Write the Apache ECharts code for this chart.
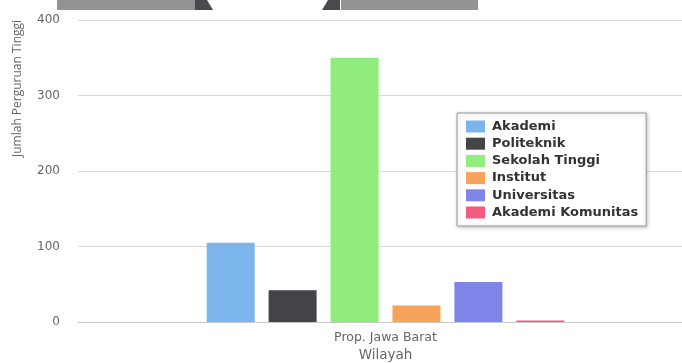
<!DOCTYPE html>
<html>
<head>
<meta charset="utf-8">
<style>
  html, body { margin: 0; padding: 0; background: #fff; }
  #chart { width: 682px; height: 363px; }
</style>
<script src="https://cdn.jsdelivr.net/npm/echarts@6/dist/echarts.min.js"></script>
</head>
<body>
<div id="chart"></div>
<script>
// Jumlah perguruan tinggi per jenis, Prop. Jawa Barat
var categories = ['Prop. Jawa Barat'];
var seriesNames = ['Akademi', 'Politeknik', 'Sekolah Tinggi', 'Institut', 'Universitas', 'Akademi Komunitas'];
var seriesValues = [[105], [42], [350], [22], [53], [2]];
var colors = ['#7cb5ec', '#434348', '#90ed7d', '#f7a35c', '#8085e9', '#f15c80'];
var yTicks = { min: 0, max: 400, interval: 100 };

var FONT = 'DejaVu Sans, sans-serif';
var chart = echarts.init(document.getElementById('chart'), null, { renderer: 'canvas' });

var series = [];
for (var i = 0; i < seriesNames.length; i++) {
    series.push({
        name: seriesNames[i],
        type: 'bar',
        data: seriesValues[i],
        barWidth: 48,
        barGap: '29%',
        itemStyle: { color: colors[i] }
    });
}

var option = {
    animation: false,
    color: colors,
    // plot runs a little past the right edge of the screenshot
    grid: { left: 78, right: -11, top: 20, bottom: 41, outerBoundsMode: 'none', containLabel: false },
    // grey strip at the top edge of the screenshot
    graphic: [
        { type: 'rect', shape: { x: 57, y: 0, width: 138, height: 10 }, style: { fill: '#939393' } },
        { type: 'polygon', shape: { points: [[195, 0], [207, 0], [213, 10], [195, 10]] }, style: { fill: '#4a4a4e' } },
        { type: 'polygon', shape: { points: [[328, 0], [340, 0], [340, 10], [322, 10]] }, style: { fill: '#4a4a4e' } },
        { type: 'rect', shape: { x: 341, y: 0, width: 137, height: 10 }, style: { fill: '#939393' } }
    ],
    legend: {
        orient: 'vertical',
        left: 457,
        top: 113,
        padding: [7, 8, 7, 9],
        itemWidth: 19,
        itemHeight: 12,
        itemGap: 4.2,
        backgroundColor: '#fff',
        borderColor: '#999',
        borderWidth: 1,
        shadowColor: 'rgba(0,0,0,0.25)',
        shadowBlur: 4,
        shadowOffsetX: 1,
        shadowOffsetY: 1,
        icon: 'rect',
        data: seriesNames,
        textStyle: { fontFamily: FONT, fontSize: 13, fontWeight: 'bold', color: '#333', padding: [0, 0, 0, 2] }
    },
    xAxis: {
        type: 'category',
        data: categories,
        name: 'Wilayah',
        nameLocation: 'middle',
        nameGap: 26,
        nameTextStyle: { fontFamily: FONT, fontSize: 13.5, color: '#666' },
        axisLine: { show: true, lineStyle: { color: '#c8c8c8' } },
        axisTick: { show: false },
        axisLabel: { fontFamily: FONT, fontSize: 12.5, color: '#666', margin: 9 }
    },
    yAxis: {
        type: 'value',
        min: yTicks.min,
        max: yTicks.max,
        interval: yTicks.interval,
        name: 'Jumlah Perguruan Tinggi',
        nameLocation: 'end',
        nameRotate: 90,
        nameGap: -137,
        nameTextStyle: { fontFamily: 'Open Sans, sans-serif', fontSize: 12, color: '#666', verticalAlign: 'bottom', padding: [0, 0, 54, 0] },
        axisLine: { show: false },
        axisTick: { show: false },
        axisLabel: { fontFamily: FONT, fontSize: 12, color: '#666', margin: 18 },
        splitLine: { lineStyle: { color: '#d8d8d8' } }
    },
    series: series
};

chart.setOption(option);
</script>
</body>
</html>
